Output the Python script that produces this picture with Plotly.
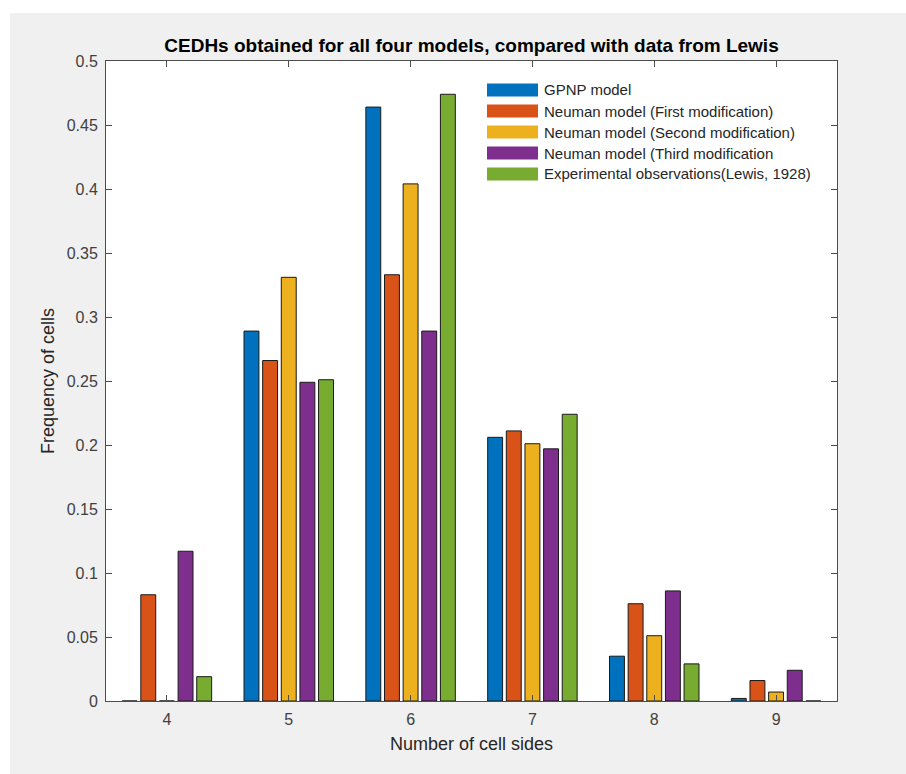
import plotly.graph_objects as go

# ---- data ----
categories = [4, 5, 6, 7, 8, 9]
series_names = [
    "GPNP model",
    "Neuman model (First modification)",
    "Neuman model (Second modification)",
    "Neuman model (Third modification",
    "Experimental observations(Lewis, 1928)",
]
gpnp = [0.0, 0.289, 0.464, 0.206, 0.035, 0.002]
neuman_first = [0.083, 0.266, 0.333, 0.211, 0.076, 0.016]
neuman_second = [0.0, 0.331, 0.404, 0.201, 0.051, 0.007]
neuman_third = [0.117, 0.249, 0.289, 0.197, 0.086, 0.024]
lewis = [0.019, 0.251, 0.474, 0.224, 0.029, 0.0]
series_values = [gpnp, neuman_first, neuman_second, neuman_third, lewis]
colors = ["#0072BD", "#D95319", "#EDB120", "#7E2F8E", "#77AC30"]

y_tickvals = [0, 0.05, 0.1, 0.15, 0.2, 0.25, 0.3, 0.35, 0.4, 0.45, 0.5]
y_ticktext = ["0", "0.05", "0.1", "0.15", "0.2", "0.25", "0.3", "0.35", "0.4", "0.45", "0.5"]

# ---- layout geometry (pixels) ----
W, H = 906, 774
L, R, T, B = 106, 837, 61, 701


def px2x(px):
    return (px - L) / (R - L)


def px2y(py):
    return (B - py) / (B - T)


fig = go.Figure()
for name, vals, col in zip(series_names, series_values, colors):
    fig.add_trace(go.Bar(
        x=categories, y=vals, name=name,
        marker=dict(color=col, line=dict(color="#1a1a1a", width=1)),
        showlegend=False,
    ))

shapes = []
annotations = []
# white strips around the gray figure panel
shapes.append(dict(type="rect", xref="paper", yref="paper", layer="below",
                   x0=px2x(0), x1=px2x(W), y0=px2y(0), y1=px2y(13),
                   fillcolor="white", line=dict(width=0)))
shapes.append(dict(type="rect", xref="paper", yref="paper", layer="below",
                   x0=px2x(0), x1=px2x(10), y0=px2y(H), y1=px2y(0),
                   fillcolor="white", line=dict(width=0)))

# custom legend (MATLAB style, no box)
row_centers = [90, 111, 132, 153, 174]
for name, col, cy in zip(series_names, colors, row_centers):
    shapes.append(dict(type="rect", xref="paper", yref="paper",
                       x0=px2x(487), x1=px2x(538), y0=px2y(cy + 6.5), y1=px2y(cy - 6.5),
                       fillcolor=col, line=dict(width=0)))
    annotations.append(dict(xref="paper", yref="paper", x=px2x(542), y=px2y(cy),
                            xanchor="left", yanchor="middle", showarrow=False,
                            text=name, font=dict(family="Liberation Sans, Arial", size=15, color="#262626")))

fig.update_layout(
    width=W, height=H,
    margin=dict(l=L, r=W - R, t=T, b=H - B),
    paper_bgcolor="#f0f0f0",
    plot_bgcolor="white",
    barmode="group",
    bargap=0.235,
    bargroupgap=0.2,
    font=dict(family="Liberation Sans, Arial", color="#262626"),
    title=dict(text="<b>CEDHs obtained for all four models, compared with data from Lewis</b>",
               x=0.5, xref="paper", xanchor="center",
               y=1 - 45 / H, yref="container", yanchor="middle",
               font=dict(size=19, color="#000000")),
    xaxis=dict(range=[3.5, 9.5], tickvals=categories, ticktext=[str(c) for c in categories],
               ticks="inside", ticklen=6, tickcolor="#4d4d4d", mirror="ticks",
               showline=True, linecolor="#4d4d4d", linewidth=1, showgrid=False, zeroline=False,
               tickfont=dict(size=16, color="#404040"), ticklabelstandoff=4,
               title=dict(text="Number of cell sides", font=dict(size=18, color="#262626"), standoff=10)),
    yaxis=dict(range=[0, 0.5], tickvals=y_tickvals, ticktext=y_ticktext,
               ticks="inside", ticklen=6, tickcolor="#4d4d4d", mirror="ticks",
               showline=True, linecolor="#4d4d4d", linewidth=1, showgrid=False, zeroline=False,
               tickfont=dict(size=16, color="#404040"), ticklabelstandoff=4,
               title=dict(text="Frequency of cells", font=dict(size=18, color="#262626"), standoff=7)),
    shapes=shapes,
    annotations=annotations,
)

fig.write_html("out.html")
